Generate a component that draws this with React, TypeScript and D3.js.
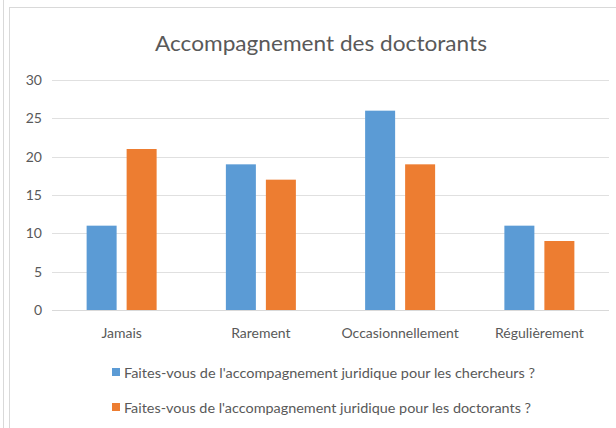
import React from "react";
import * as d3 from "d3";

const categories = ["Jamais", "Rarement", "Occasionnellement", "Régulièrement"];
const seriesNames = [
  "Faites-vous de l'accompagnement juridique pour les chercheurs ?",
  "Faites-vous de l'accompagnement juridique pour les doctorants ?",
];
const chercheurs = [11, 19, 26, 11];
const doctorants = [21, 17, 19, 9];
const yTicks = [0, 5, 10, 15, 20, 25, 30];
const colors = ["#5B9BD5", "#ED7D31"];

const W = 616;
const H = 428;
const M = { left: 52, right: 609, top: 80, bottom: 310 };
const FONT = "Lato, 'Open Sans', sans-serif";
const legendLengths = [411, 407];

export default function App() {
  const x = d3.scaleBand<string>().domain(categories).range([M.left, M.right]).paddingInner(0).paddingOuter(0);
  const y = d3.scaleLinear().domain([0, 30]).range([M.bottom, M.top]);
  const bw = 30;
  const gap = 10;
  const series = [chercheurs, doctorants];

  return (
    <svg
      width={W}
      height={H}
      style={{ position: "absolute", left: 0, top: 0, background: "#fff" }}
      fontFamily={FONT}
    >
      <rect x={0} y={0} width={W} height={H} fill="#fff" />
      <line x1={3.5} y1={0} x2={3.5} y2={H} stroke="#d9d9d9" strokeWidth={1} />
      <rect x={9.5} y={7.5} width={W + 10} height={H + 10} fill="none" stroke="#d9d9d9" strokeWidth={1} />
      <text x={321} y={51} textAnchor="middle" fontSize={22} fill="#595959" textLength={332} lengthAdjust="spacingAndGlyphs">
        Accompagnement des doctorants
      </text>
      {yTicks.map((t) => (
        <g key={t}>
          <line
            x1={M.left}
            x2={M.right}
            y1={Math.round(y(t)) + 0.5}
            y2={Math.round(y(t)) + 0.5}
            stroke={t === 0 ? "#d9d9d9" : "#e0e0e0"}
            strokeWidth={1}
          />
          <text x={42} y={y(t) + 5} textAnchor="end" fontSize={14} fill="#595959">
            {t}
          </text>
        </g>
      ))}
      {categories.map((c, i) => {
        const cx = (x(c) as number) + x.bandwidth() / 2;
        return (
          <g key={c}>
            {series.map((s, k) => {
              const bx = k === 0 ? cx - gap / 2 - bw : cx + gap / 2;
              return (
                <rect
                  key={k}
                  x={bx}
                  y={y(s[i])}
                  width={bw}
                  height={y(0) - y(s[i])}
                  fill={colors[k]}
                />
              );
            })}
            <text x={cx} y={338} textAnchor="middle" fontSize={14} fill="#595959">
              {c}
            </text>
          </g>
        );
      })}
      {seriesNames.map((n, k) => (
        <g key={n}>
          <rect x={112} y={368 + k * 35} width={8} height={8} fill={colors[k]} />
          <text
            x={124}
            y={377.5 + k * 35}
            fontSize={14}
            fill="#595959"
            textLength={legendLengths[k]}
            lengthAdjust="spacingAndGlyphs"
          >
            {n}
          </text>
        </g>
      ))}
    </svg>
  );
}
